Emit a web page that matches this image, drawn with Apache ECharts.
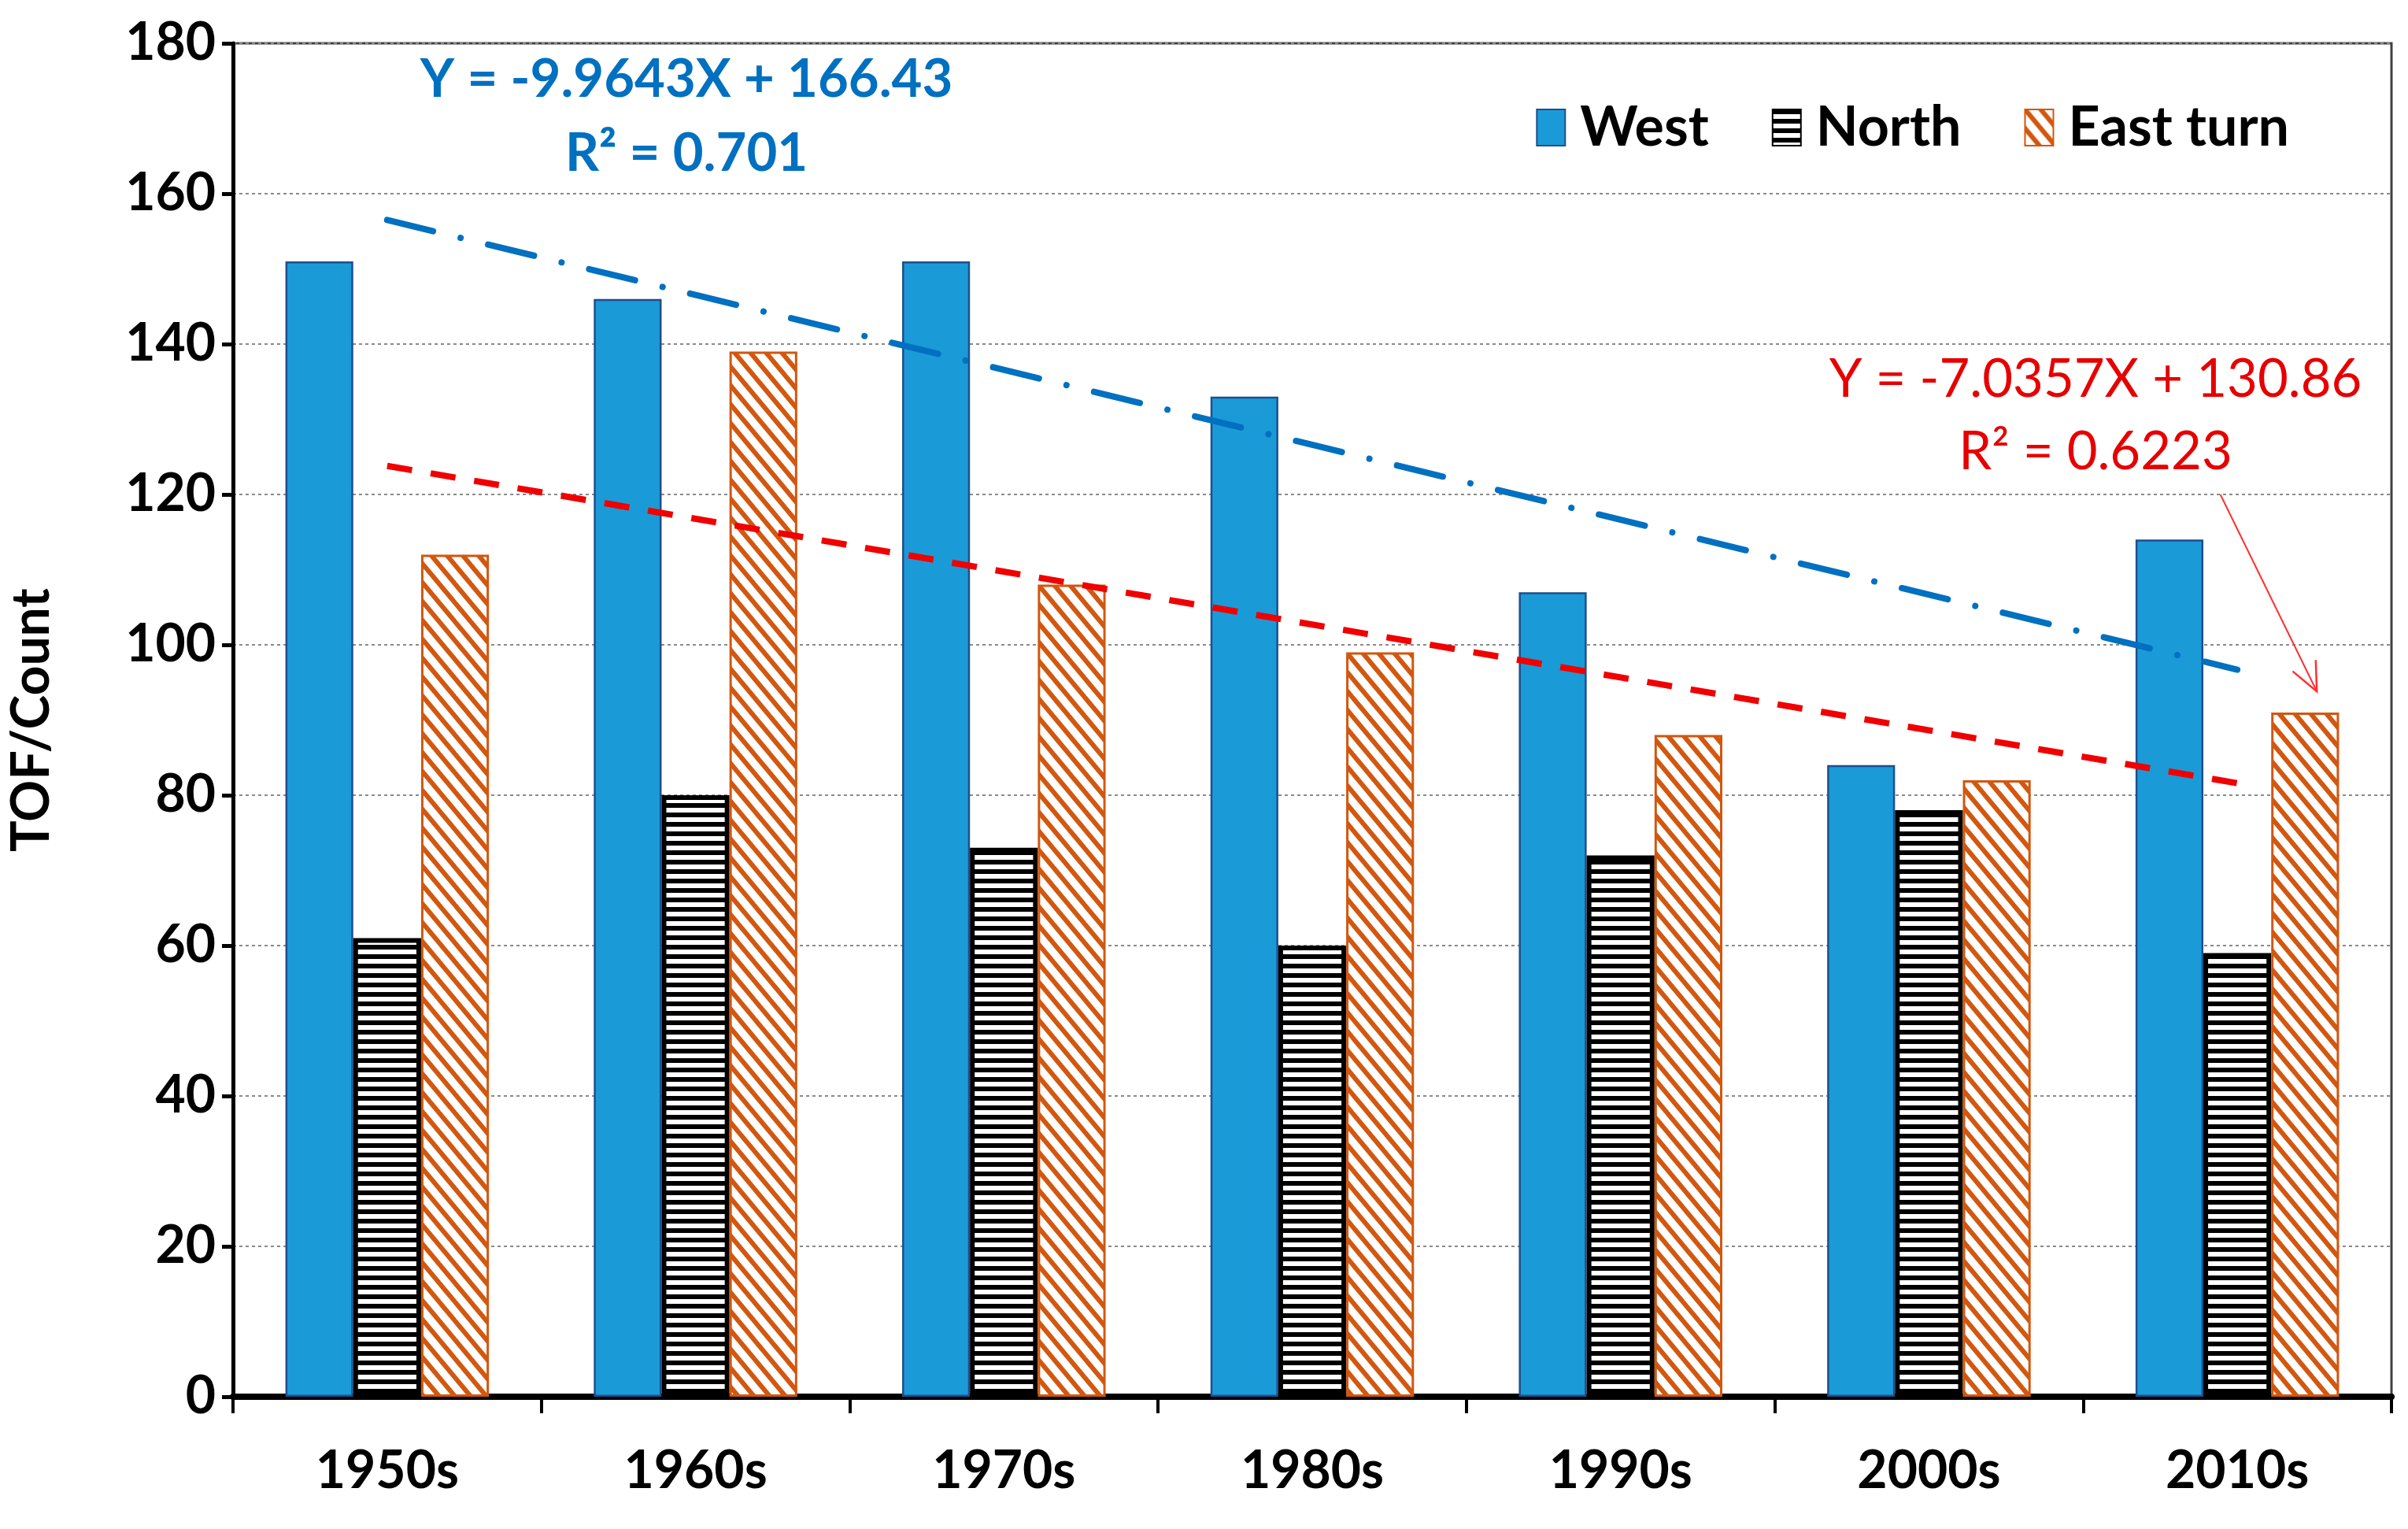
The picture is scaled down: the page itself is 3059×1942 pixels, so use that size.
<!DOCTYPE html>
<html><head><meta charset="utf-8">
<script src="https://cdn.jsdelivr.net/npm/echarts/dist/echarts.min.js"></script>
<style>html,body{margin:0;padding:0;background:#fff}#c{width:3059px;height:1942px}</style>
</head><body><div id="c"></div>
<script>
// ---- data ----
const categories = ['1950s','1960s','1970s','1980s','1990s','2000s','2010s'];
const westValues = [151, 146, 151, 133, 107, 84, 114];
const northValues = [61, 80, 73, 60, 72, 78, 59];
const eastTurnValues = [112, 139, 108, 99, 88, 82, 91];
// trend line end points (at 1950s and 2010s)
const westTrend = [156.5, null, null, null, null, null, 96.7];
const eastTrend = [123.8, null, null, null, null, null, 81.6];
const westEquation = ['Y = -9.9643X + 166.43', 'R\u00B2 = 0.701'];
const eastEquation = ['Y = -7.0357X + 130.86', 'R\u00B2 = 0.6223'];
const yMin = 0, yMax = 180, yStep = 20;
const seriesNames = ['West', 'North', 'East turn'];

const FONT = 'Lato';
const BLUE_BAR = '#1A9BD7', BLUE_EDGE = '#1F4E8F';
const ORANGE = '#D2570F';
const TREND_BLUE = '#0070C0', TREND_RED = '#F00000';

function hStripes() {
  const c = document.createElement('canvas'); c.width = 8; c.height = 12;
  const g = c.getContext('2d');
  g.fillStyle = '#fff'; g.fillRect(0, 0, 8, 12);
  g.fillStyle = '#000'; g.fillRect(0, 0, 8, 6);
  return c;
}
function dStripes() {
  const w = 20, h = 24;
  const c = document.createElement('canvas'); c.width = w; c.height = h;
  const g = c.getContext('2d');
  g.fillStyle = '#fff'; g.fillRect(0, 0, w, h);
  g.strokeStyle = ORANGE; g.lineWidth = 6;
  for (const dx of [-w, 0, w]) {
    g.beginPath(); g.moveTo(dx - w, -h); g.lineTo(dx + 2 * w, 2 * h); g.stroke();
  }
  return c;
}

const chart = echarts.init(document.getElementById('c'), null, {renderer: 'canvas'});
const labelFont = {fontFamily: FONT, fontWeight: 'bold', fontSize: 66, color: '#000'};

chart.setOption({
  animation: false,
  backgroundColor: '#fff',
  grid: {left: 293, right: 21, top: 55, bottom: 168, show: true, borderColor: '#404040', borderWidth: 3},
  legend: {
    data: seriesNames, right: 146, top: 122, icon: 'rect', itemWidth: 36, itemHeight: 46, itemGap: 80,
    textStyle: Object.assign({}, labelFont, {fontSize: 70, padding: [0, 0, 0, 14]})
  },
  xAxis: {
    type: 'category', data: categories,
    axisLine: {lineStyle: {color: '#000', width: 8}},
    axisTick: {show: true, length: 21, lineStyle: {color: '#000', width: 4}},
    axisLabel: Object.assign({}, labelFont, {margin: 62})
  },
  yAxis: {
    type: 'value', min: yMin, max: yMax, interval: yStep,
    name: 'TOF/Count', nameLocation: 'middle', nameGap: 222,
    nameTextStyle: labelFont,
    axisLine: {show: true, lineStyle: {color: '#000', width: 5}},
    axisTick: {show: true, length: 14, lineStyle: {color: '#000', width: 5}},
    axisLabel: Object.assign({}, labelFont, {margin: 22}),
    splitLine: {lineStyle: {color: '#8a8a8a', width: 2, type: [4, 4]}}
  },
  series: [
    {name: 'West', type: 'bar', data: westValues, barGap: '0%', barCategoryGap: '34%',
     itemStyle: {color: BLUE_BAR, borderColor: BLUE_EDGE, borderWidth: 2.5}},
    {name: 'North', type: 'bar', data: northValues,
     itemStyle: {color: {image: hStripes(), repeat: 'repeat'}, borderColor: '#000', borderWidth: 6}},
    {name: 'East turn', type: 'bar', data: eastTurnValues,
     itemStyle: {color: {image: dStripes(), repeat: 'repeat'}, borderColor: ORANGE, borderWidth: 3}},
    {name: 'West trend', type: 'line', data: westTrend, connectNulls: true, symbol: 'none', z: 5,
     lineStyle: {color: TREND_BLUE, width: 8, type: [60, 36, 0.01, 36], cap: 'round'}},
    {name: 'East trend', type: 'line', data: eastTrend, connectNulls: true, symbol: 'none', z: 5,
     lineStyle: {color: TREND_RED, width: 8, type: [32, 24], cap: 'butt'}}
  ]
});

// annotations
const cx = chart.convertToPixel({xAxisIndex: 0}, categories[6]);
const catW = cx - chart.convertToPixel({xAxisIndex: 0}, categories[5]);
const y120 = chart.convertToPixel({yAxisIndex: 0}, 120);
const yTip = chart.convertToPixel({yAxisIndex: 0}, 93.8);
const sx = cx - 0.055 * catW, tx = cx + 0.258 * catW;
const ang = Math.atan2(yTip - y120, tx - sx);
const hl = 40, ha = 0.42;
const h1 = [tx - hl * Math.cos(ang - ha), yTip - hl * Math.sin(ang - ha)];
const h2 = [tx - hl * Math.cos(ang + ha), yTip - hl * Math.sin(ang + ha)];

function txt(x, y, s, color, weight) {
  return {type: 'text', x: x, y: y, z: 10,
    style: {text: s, fill: color, font: weight + ' 67px ' + FONT, align: 'center', verticalAlign: 'middle'}};
}
chart.setOption({
  graphic: [
    txt(872, 101, westEquation[0], TREND_BLUE, 'bold'),
    txt(872, 195, westEquation[1], TREND_BLUE, 'bold'),
    txt(2662, 482, eastEquation[0], '#E60000', 'normal'),
    txt(2662, 574, eastEquation[1], '#E60000', 'normal'),
    {type: 'polyline', z: 10, shape: {points: [[sx, y120], [tx, yTip]]}, style: {stroke: '#FF3030', lineWidth: 2, fill: null}},
    {type: 'polyline', z: 10, shape: {points: [h1, [tx, yTip], h2]}, style: {stroke: '#FF3030', lineWidth: 2.5, fill: null}}
  ]
});
</script></body></html>
